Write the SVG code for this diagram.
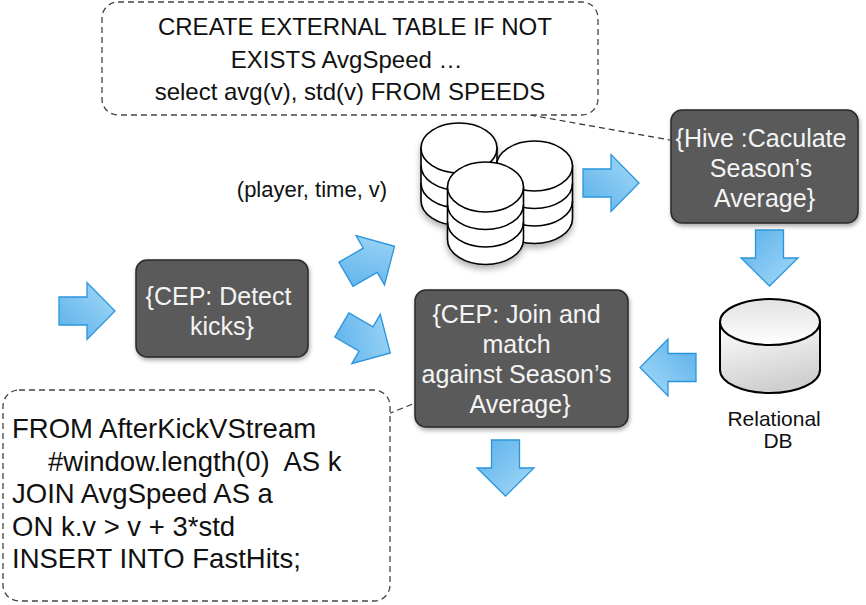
<svg xmlns="http://www.w3.org/2000/svg" xmlns:xlink="http://www.w3.org/1999/xlink" width="866" height="605" viewBox="0 0 866 605">
<defs>
  <linearGradient id="blue" x1="0" y1="1" x2="1" y2="0">
    <stop offset="0" stop-color="#58b0e9"/>
    <stop offset="1" stop-color="#a6daf9"/>
  </linearGradient>
  <linearGradient id="dbBody" x1="0" y1="0" x2="0.3" y2="1">
    <stop offset="0" stop-color="#ffffff"/>
    <stop offset="1" stop-color="#cfcfcf"/>
  </linearGradient>
  <linearGradient id="dbTop" x1="0" y1="0" x2="0" y2="1">
    <stop offset="0" stop-color="#e2e2e2"/>
    <stop offset="1" stop-color="#ffffff"/>
  </linearGradient>
  <filter id="shadow" x="-20%" y="-20%" width="140%" height="150%">
    <feDropShadow dx="1" dy="2.5" stdDeviation="2" flood-color="#000" flood-opacity="0.35"/>
  </filter>
  <filter id="stackShadow" x="-20%" y="-20%" width="140%" height="150%">
    <feDropShadow dx="0" dy="4" stdDeviation="3" flood-color="#000" flood-opacity="0.3"/>
  </filter>
  <path id="arrow" d="M0,-14 H28 V-28.5 L56,0 L28,28.5 V14 H0 Z"/>
  <g id="stack">
    <path d="M-38,25 V77.5 A38,25 0 0 0 38,77.5 V25 Z" fill="#fff" stroke="#000" stroke-width="1.6"/>
    <path d="M-38,42.5 A38,25 0 0 0 38,42.5 M-38,60 A38,25 0 0 0 38,60" fill="none" stroke="#000" stroke-width="1.6"/>
    <ellipse cx="0" cy="25" rx="38" ry="25" fill="#fff" stroke="#000" stroke-width="1.6"/>
  </g>
</defs>
<style>
  .box { fill: #5a5a5a; stroke: #2a2a2a; stroke-width: 1.5; filter: url(#shadow); }
  .btxt { font-family: "Liberation Sans", Arial, sans-serif; font-size: 25px; fill: #f4f4f4; text-anchor: middle; }
  .note { fill: #fff; stroke: #444; stroke-width: 1.3; stroke-dasharray: 6 4; }
  .ntxt { font-family: "Liberation Sans", Arial, sans-serif; fill: #111; }
  .lead { fill: none; stroke: #333; stroke-width: 1.2; stroke-dasharray: 6 4; }
  .arr { fill: url(#blue); stroke: #2b95dc; stroke-width: 1.3; }
  .lbl { font-family: "Liberation Sans", Arial, sans-serif; fill: #111; text-anchor: middle; }
</style>

<g id="connectors">
  <line class="lead" x1="530" y1="115" x2="670" y2="140"/>
  <line class="lead" x1="388" y1="414" x2="415" y2="403"/>
  <use href="#arrow" class="arr" transform="translate(59,311)"/>
  <use href="#arrow" class="arr" transform="translate(346,274.3) rotate(-30)"/>
  <use href="#arrow" class="arr" transform="translate(341.8,325) rotate(30)"/>
  <use href="#arrow" class="arr" transform="translate(583,183)"/>
  <use href="#arrow" class="arr" transform="translate(769.5,230) rotate(90)"/>
  <use href="#arrow" class="arr" transform="translate(696,367.5) rotate(180)"/>
  <use href="#arrow" class="arr" transform="translate(505.5,440) rotate(90)"/>
</g>

<g id="note-hive">
  <rect class="note" x="102" y="2" width="496" height="113" rx="16"/>
  <text class="ntxt" font-size="24" text-anchor="middle">
    <tspan x="358" y="35">CREATE EXTERNAL TABLE IF NOT</tspan>
    <tspan x="350" y="68">EXISTS AvgSpeed …</tspan>
    <tspan x="350" y="100">select avg(v), std(v) FROM SPEEDS</tspan>
  </text>
</g>

<g id="label-tuple">
  <text class="lbl" font-size="22" x="312" y="197">(player, time, v)</text>
</g>

<g id="data-store" filter="url(#stackShadow)">
  <use href="#stack" transform="translate(459,123)"/>
  <use href="#stack" transform="translate(534.5,141)"/>
  <use href="#stack" transform="translate(485.5,162)"/>
</g>

<g id="hive">
  <rect class="box" x="671" y="110" width="187" height="113" rx="11"/>
  <text class="btxt">
    <tspan x="764.5" y="147">{Hive :Caculate</tspan>
    <tspan x="764.5" y="177">Season’s</tspan>
    <tspan x="764.5" y="207">Average}</tspan>
  </text>
</g>

<g id="relational-db">
  <path d="M720,322 V370 A50,23 0 0 0 820,370 V322 Z" fill="url(#dbBody)" stroke="#000" stroke-width="2"/>
  <ellipse cx="770" cy="322" rx="50" ry="23" fill="url(#dbTop)" stroke="#000" stroke-width="2"/>
  <text class="lbl" font-size="21">
    <tspan x="777" y="426">Relational</tspan>
    <tspan x="778" y="448">DB</tspan>
  </text>
</g>

<g id="detect-kicks">
  <rect class="box" x="136" y="260" width="172" height="97" rx="11"/>
  <text class="btxt">
    <tspan x="222" y="305">{CEP: Detect</tspan>
    <tspan x="222" y="335">kicks}</tspan>
  </text>
</g>

<g id="join-match">
  <rect class="box" x="415" y="290" width="213" height="137" rx="11"/>
  <text class="btxt">
    <tspan x="520" y="323">{CEP: Join and</tspan>
    <tspan x="520" y="353">match</tspan>
    <tspan x="520" y="383">against Season’s</tspan>
    <tspan x="520" y="413">Average}</tspan>
  </text>
</g>

<g id="note-cep">
  <rect class="note" x="3" y="390" width="387" height="211" rx="16"/>
  <text class="ntxt" font-size="27.5" xml:space="preserve"><tspan x="12" y="437.5">FROM AfterKickVStream</tspan><tspan x="48" y="471">#window.length(0)  AS k</tspan><tspan x="12" y="503">JOIN AvgSpeed AS a</tspan><tspan x="12" y="535.5">ON k.v &gt; v + 3*std</tspan><tspan x="12" y="568">INSERT INTO FastHits;</tspan></text>
</g>
</svg>
